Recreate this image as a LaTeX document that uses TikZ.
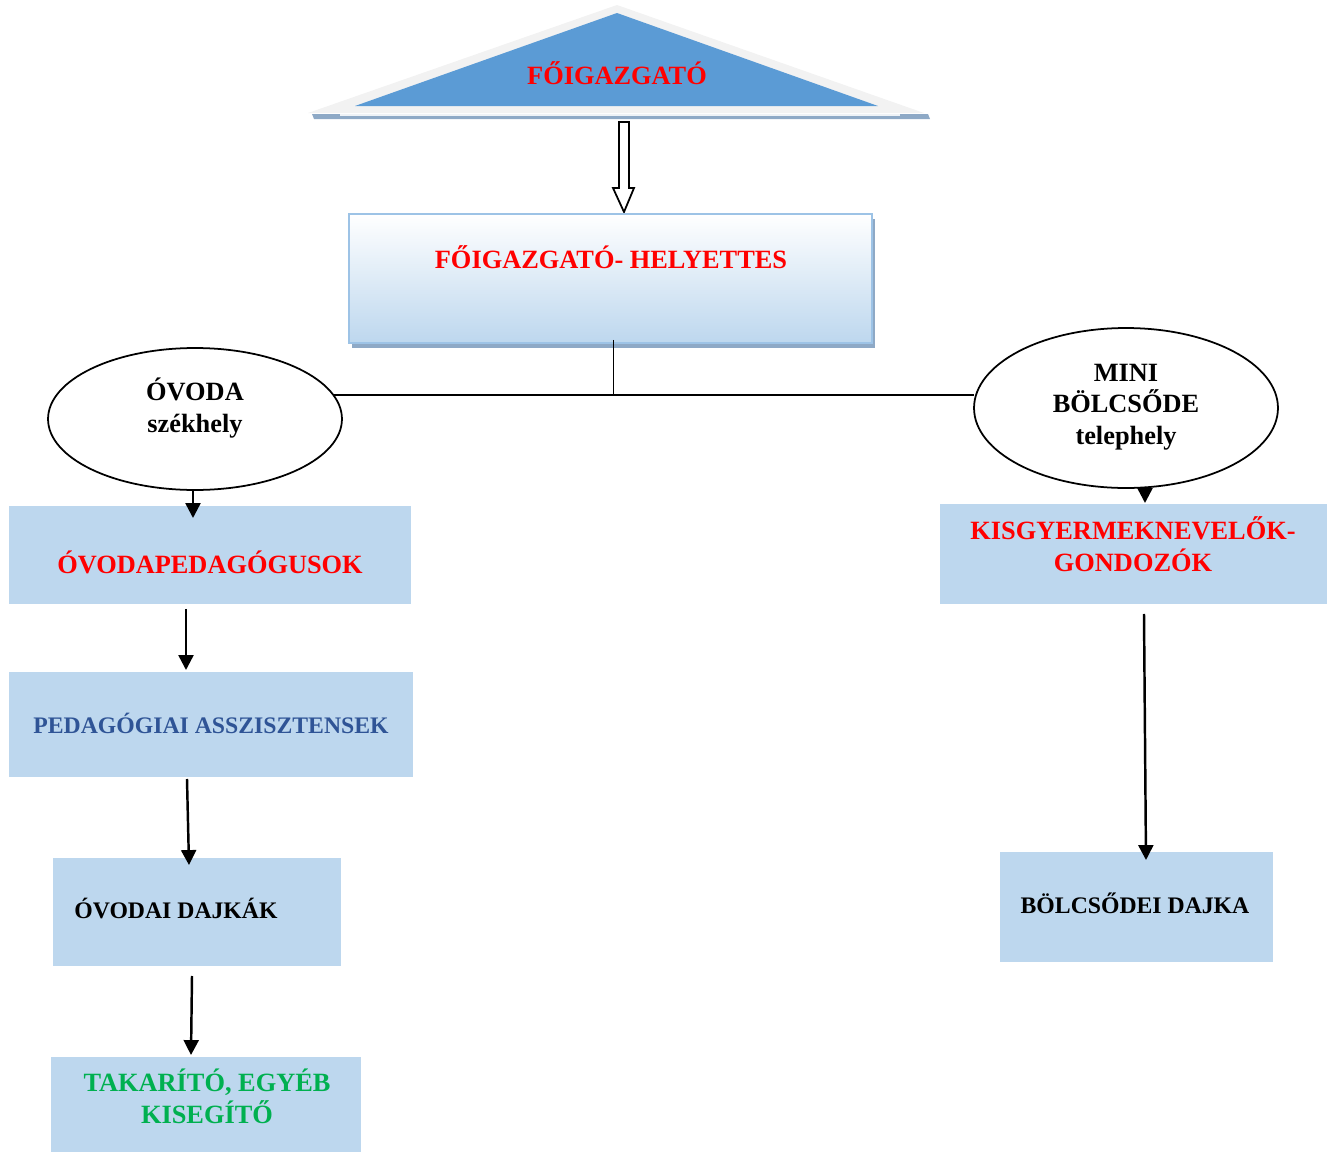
\documentclass[tikz,border=0pt]{standalone}
\usepackage{fontspec}
\setmainfont{Liberation Serif}
\usetikzlibrary{shapes.geometric,arrows.meta,calc}
\definecolor{boxblue}{HTML}{BDD7EE}
\definecolor{triblue}{HTML}{5B9BD5}
\definecolor{trigray}{HTML}{F2F2F2}
\definecolor{shadowblue}{HTML}{8EA9C6}
\definecolor{edgeblue}{HTML}{9DC3E6}
\definecolor{txtred}{HTML}{FF0000}
\definecolor{txtblue}{HTML}{2F5496}
\definecolor{txtgreen}{HTML}{00B050}
\begin{document}
\begin{tikzpicture}[x=0.02cm,y=-0.02cm,
  boxnode/.style={fill=boxblue,draw=none,inner sep=0pt,outer sep=0pt},
  ellnode/.style={ellipse,draw=black,line width=1pt,fill=white,inner sep=0pt,outer sep=0pt},
  lbl/.style={font=\fontsize{15}{18}\selectfont\bfseries,align=center,inner sep=0pt},
  lblsmall/.style={font=\fontsize{13.5}{17}\selectfont\bfseries,align=center,inner sep=0pt},
  arr/.style={line width=1.4pt,-{Triangle[width=8.5pt,length=8.5pt]}},
  plain/.style={line width=1pt}]
\useasboundingbox (0,0) rectangle (1333,1153);
% top triangle
\fill[shadowblue] (312,114) -- (928,114) -- (930,119) -- (314,119) -- cycle;
\fill[trigray] (617,5) -- (924,113) -- (308,113) -- cycle;
\fill[triblue] (617,13) -- (878,106) -- (355,106) -- cycle;
\draw[white!85!shadowblue,line width=0.6pt] (340,115) -- (900,115);
\node[lbl,text=txtred] (top) at (617,73) {FŐIGAZGATÓ};
% hollow arrow
\draw[line width=1pt,fill=white] (619,122) -- (629,122) -- (629,188) -- (634,188) -- (624,212) -- (613,188) -- (619,188) -- cycle;
% deputy box
\fill[shadowblue] (352,219) rectangle (875,348);
\node[draw=edgeblue,line width=1.2pt,top color=white,bottom color=boxblue,inner sep=0pt,outer sep=0pt,
  minimum width=10.46cm,minimum height=2.58cm] (hb) at (610.5,278.5) {};
\node[lbl,text=txtred] (thb) at (611,257) {FŐIGAZGATÓ- HELYETTES};
% ellipses
\node[ellnode,minimum width=5.88cm,minimum height=2.84cm] (e1) at (195,419) {};
\node[lbl] (te1) at (195,408) {ÓVODA\\székhely};
\node[ellnode,minimum width=6.08cm,minimum height=3.2cm] (e2) at (1126,408) {};
\node[lbl] (te2) at (1126,407) {MINI\\BÖLCSŐDE\\telephely};
% connector lines
\coordinate (j) at (hb.south |- e1.10);
\draw[plain] ($(hb.south)+(3,-3)$) -- ($(j)+(3,0)$);
\draw[plain] (e1.10) -- (e1.10 -| e2.west);
% left column boxes
\node[boxnode,minimum width=8.04cm,minimum height=1.96cm] (b1) at (210,555) {};
\node[lbl,text=txtred] (tb1) at (210,562) {ÓVODAPEDAGÓGUSOK};
\node[boxnode,minimum width=8.08cm,minimum height=2.1cm] (b2) at (211,724.5) {};
\node[lblsmall,text=txtblue] (tb2) at (211,723) {PEDAGÓGIAI ASSZISZTENSEK};
\node[boxnode,minimum width=5.76cm,minimum height=2.16cm] (b3) at (197,912) {};
\node[lblsmall] (tb3) at (176,908) {ÓVODAI DAJKÁK};
\node[boxnode,minimum width=6.2cm,minimum height=1.9cm] (b4) at (206,1104.5) {};
\node[lbl,text=txtgreen] (tb4) at (207,1096) {TAKARÍTÓ, EGYÉB\\KISEGÍTŐ};
% right column boxes
\node[boxnode,minimum width=7.74cm,minimum height=2.0cm] (r1) at (1133.5,554) {};
\node[lbl,text=txtred] (tr1) at (1133,544) {KISGYERMEKNEVELŐK-\\GONDOZÓK};
\node[boxnode,minimum width=5.46cm,minimum height=2.2cm] (r2) at (1136.5,907) {};
\node[lblsmall] (tr2) at (1135,903) {BÖLCSŐDEI DAJKA};
% arrows left
\draw[arr] ($(e1.south)+(-2,0)$) -- ($(e1.south |- b1.north)+(-2,12)$);
\draw[arr] ($(b1.south)+(-24,5)$) -- ($(b2.north)+(-25,-2)$);
\draw[arr] ($(b2.south)+(-24,2)$) -- ($(b3.north)+(-8,7)$);
\draw[arr] ($(b3.south)+(-5,10)$) -- ($(b4.north)+(-15,-2)$);
% arrows right
\draw[arr] ($(e2.south)+(19,-1)$) -- ($(r1.north)+(11.5,-1)$);
\draw[arr] ($(r1.south)+(10.5,10)$) -- ($(r2.north)+(9.5,8)$);
\end{tikzpicture}
\end{document}
